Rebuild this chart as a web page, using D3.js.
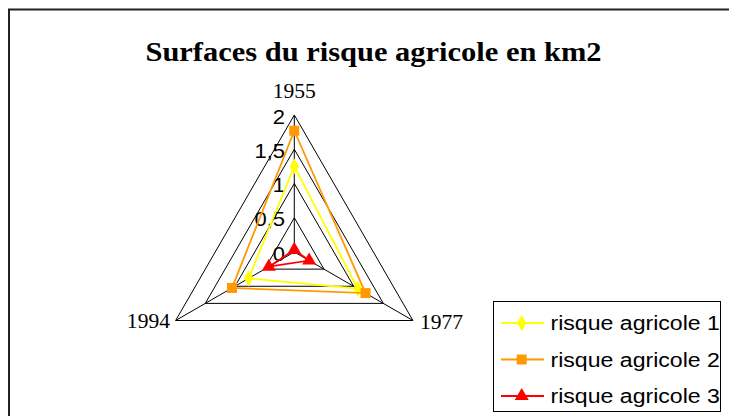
<!DOCTYPE html>
<html>
<head>
<meta charset="utf-8">
<script src="https://cdn.jsdelivr.net/npm/d3@7"></script>
<style>
  body { margin: 0; background: #fff; }
  svg { display: block; }
</style>
</head>
<body>
<div id="chart"></div>
<script>
var years = ['1955', '1977', '1994'];
var seriesNames = ['risque agricole 1', 'risque agricole 2', 'risque agricole 3'];
var risque1 = [1.25, 1.07, 0.77];
var risque2 = [1.77, 1.2, 1.05];
var risque3 = [0.03, 0.25, 0.43];
var tickValues = [0, 0.5, 1, 1.5, 2];

var colors = ['#ffff00', '#ff9900', '#ff0000'];
var symbols = [d3.symbolDiamond, d3.symbolSquare, d3.symbolTriangle];
var symbolSizes = [75, 100, 85];

var width = 729, height = 416;
var cx = 294.3, cy = 252;
var radius = 137;

// stretch text horizontally around its own anchor point
function stretch(sel, sx) {
  sel.attr('transform', function() {
    var t = d3.select(this);
    return 'translate(' + t.attr('x') + ',' + t.attr('y') + ') scale(' + sx + ',1)';
  })
  .attr('x', 0)
  .attr('y', 0);
}

var svg = d3.select('#chart').append('svg')
    .attr('width', width)
    .attr('height', height);

svg.append('rect')
    .attr('width', width)
    .attr('height', height)
    .attr('fill', '#fff');

// outer frame, runs off the right and bottom edges
svg.append('rect')
    .attr('x', 9)
    .attr('y', 9.5)
    .attr('width', 760)
    .attr('height', 440)
    .attr('fill', 'none')
    .attr('stroke', '#222')
    .attr('stroke-width', 2);

svg.append('text')
    .attr('x', 373.5)
    .attr('y', 61)
    .attr('text-anchor', 'middle')
    .attr('font-family', '"Liberation Serif", "Times New Roman", serif')
    .attr('font-weight', 'bold')
    .attr('font-size', 26.5)
    .attr('fill', '#000')
    .text('Surfaces du risque agricole en km2')
    .call(stretch, 1.15);

var rScale = d3.scaleLinear()
    .domain([0, 2])
    .range([0, radius]);

var angleScale = d3.scaleLinear()
    .domain([0, years.length])
    .range([0, 2 * Math.PI]);

function point(i, v) {
  var a = angleScale(i);
  return [cx + rScale(v) * Math.sin(a), cy - rScale(v) * Math.cos(a)];
}

var radar = svg.append('g');

// grid triangles
radar.selectAll('.grid')
    .data(tickValues.filter(function(d) { return d > 0; }))
  .enter().append('path')
    .attr('class', 'grid')
    .attr('fill', 'none')
    .attr('stroke', '#000')
    .attr('stroke-width', 1)
    .attr('d', function(v) {
      return d3.line()(years.map(function(y, i) { return point(i, v); })) + 'Z';
    });

// spokes
radar.selectAll('.spoke')
    .data(years)
  .enter().append('line')
    .attr('class', 'spoke')
    .attr('stroke', '#000')
    .attr('stroke-width', 1)
    .attr('x1', cx)
    .attr('y1', cy)
    .attr('x2', function(d, i) { return point(i, 2)[0]; })
    .attr('y2', function(d, i) { return point(i, 2)[1]; });

// value labels along the 1955 spoke
var fmt = function(d) { return String(d).replace('.', ','); };
radar.selectAll('.tick')
    .data(tickValues)
  .enter().append('text')
    .attr('class', 'tick')
    .attr('x', 285)
    .attr('y', function(d) { return cy - rScale(d) + 8.5; })
    .attr('text-anchor', 'end')
    .attr('font-family', '"Liberation Sans", Arial, sans-serif')
    .attr('font-size', 20)
    .attr('fill', '#000')
    .text(fmt)
    .each(function() { d3.select(this).call(stretch, 1.1); });

// category labels
var labelPos = [[294.3, 98.3, 'middle'], [420, 329.3, 'start'], [170, 328.3, 'end']];
radar.selectAll('.cat')
    .data(years)
  .enter().append('text')
    .attr('class', 'cat')
    .attr('x', function(d, i) { return labelPos[i][0]; })
    .attr('y', function(d, i) { return labelPos[i][1]; })
    .attr('text-anchor', function(d, i) { return labelPos[i][2]; })
    .attr('font-family', '"Liberation Serif", "Times New Roman", serif')
    .attr('font-size', 20)
    .attr('fill', '#000')
    .text(function(d) { return d; })
    .each(function() { d3.select(this).call(stretch, 1.08); });

var series = [risque1, risque2, risque3];

series.forEach(function(values, s) {
  var pts = values.map(function(v, i) { return point(i, v); });
  radar.append('path')
      .attr('fill', 'none')
      .attr('stroke', colors[s])
      .attr('stroke-width', 1.8)
      .attr('d', d3.line()(pts) + 'Z');

  radar.selectAll('.m' + s)
      .data(pts)
    .enter().append('path')
      .attr('class', 'm' + s)
      .attr('transform', function(d) { return 'translate(' + d[0] + ',' + d[1] + ')'; })
      .attr('fill', colors[s])
      .attr('d', d3.symbol().type(symbols[s]).size(symbolSizes[s]));
});

// legend
var legend = svg.append('g')
    .attr('font-family', '"Liberation Sans", Arial, sans-serif')
    .attr('font-size', 21);

legend.append('rect')
    .attr('x', 493.5)
    .attr('y', 301.5)
    .attr('width', 227)
    .attr('height', 110)
    .attr('fill', '#fff')
    .attr('stroke', '#000')
    .attr('stroke-width', 1);

var rowY = d3.scalePoint()
    .domain(seriesNames)
    .range([323, 396]);

seriesNames.forEach(function(name, s) {
  var y = rowY(name);
  legend.append('line')
      .attr('x1', 501)
      .attr('x2', 544)
      .attr('y1', y)
      .attr('y2', y)
      .attr('stroke', colors[s])
      .attr('stroke-width', 1.8);
  legend.append('path')
      .attr('transform', 'translate(521.7,' + y + ')')
      .attr('fill', colors[s])
      .attr('d', d3.symbol().type(symbols[s]).size(symbolSizes[s]));
  legend.append('text')
      .attr('x', 550.5)
      .attr('y', y + 7)
      .attr('fill', '#000')
      .text(name)
      .call(stretch, 1.1);
});
</script>
</body>
</html>
